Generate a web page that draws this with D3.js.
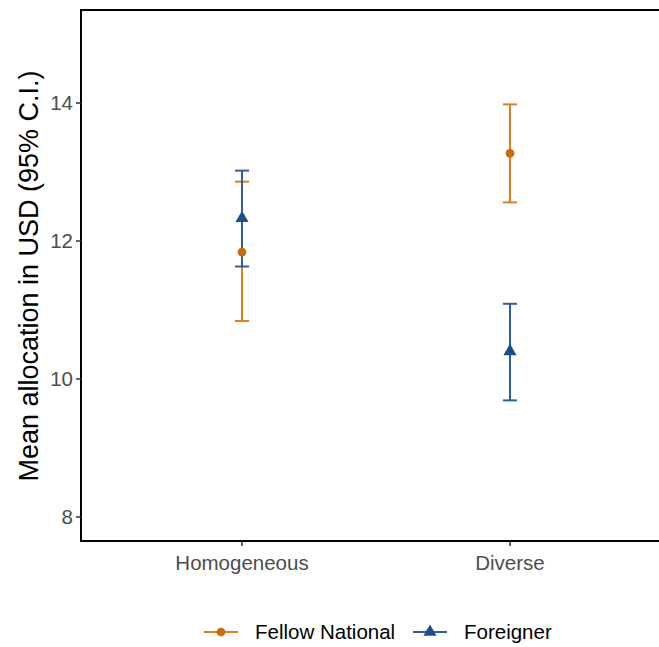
<!DOCTYPE html>
<meta charset="utf-8">
<style>
body { margin: 0; background: #fff; }
text { font-family: "Liberation Sans", Arial, sans-serif; }
</style>
<svg width="659" height="647"></svg>
<script src="https://d3js.org/d3.v7.min.js"></script>
<script>
// data
var groups = ["Homogeneous", "Diverse"];
var seriesNames = ["Fellow National", "Foreigner"];
var fellowMean = [11.84, 13.27];
var fellowLow = [10.84, 12.56];
var fellowHigh = [12.86, 13.98];
var foreignMean = [12.33, 10.40];
var foreignLow = [11.63, 9.69];
var foreignHigh = [13.02, 11.09];
var yTicks = [8, 10, 12, 14];

var svg = d3.select("svg");
var mLeft = 81, mTop = 10, mBottom = 541;

var y = d3.scaleLinear().domain([7.652, 15.348]).range([mBottom, mTop]);
var x = d3.scalePoint().domain(groups).range([242, 510]);

var colors = { line: ["#dd7f1f", "#2c609e"], mark: ["#cf6a0c", "#1b4f8c"] };

var series = [
  { name: seriesNames[0], mean: fellowMean, lo: fellowLow, hi: fellowHigh, shape: d3.symbolCircle },
  { name: seriesNames[1], mean: foreignMean, lo: foreignLow, hi: foreignHigh, shape: d3.symbolTriangle }
];

// error bars
series.forEach(function(s, si) {
  var g = svg.append("g");
  groups.forEach(function(grp, i) {
    var cx = x(grp);
    g.append("line").attr("x1", cx).attr("x2", cx)
      .attr("y1", y(s.lo[i])).attr("y2", y(s.hi[i]))
      .attr("stroke", colors.line[si]).attr("stroke-width", 2);
    [s.lo[i], s.hi[i]].forEach(function(v) {
      g.append("line").attr("x1", cx - 7).attr("x2", cx + 7)
        .attr("y1", y(v)).attr("y2", y(v))
        .attr("stroke", colors.line[si]).attr("stroke-width", 2);
    });
  });
});

series.forEach(function(s, si) {
  groups.forEach(function(grp, i) {
    svg.append("path")
      .attr("d", d3.symbol().type(s.shape).size(si === 0 ? 60 : 75)())
      .attr("transform", "translate(" + x(grp) + "," + y(s.mean[i]) + ")")
      .attr("fill", colors.mark[si]);
  });
});

// axes
svg.append("line").attr("x1", mLeft).attr("x2", 659).attr("y1", mTop).attr("y2", mTop)
  .attr("stroke", "#000").attr("stroke-width", 2);
svg.append("line").attr("x1", mLeft).attr("x2", mLeft).attr("y1", mTop - 1).attr("y2", mBottom + 1)
  .attr("stroke", "#000").attr("stroke-width", 2);
svg.append("line").attr("x1", mLeft - 1).attr("x2", 659).attr("y1", mBottom).attr("y2", mBottom)
  .attr("stroke", "#000").attr("stroke-width", 2);

yTicks.forEach(function(t) {
  svg.append("line").attr("x1", mLeft - 5).attr("x2", mLeft).attr("y1", y(t)).attr("y2", y(t))
    .attr("stroke", "#333").attr("stroke-width", 1.5);
  svg.append("text").attr("x", mLeft - 8).attr("y", y(t)).attr("dy", "0.36em")
    .attr("text-anchor", "end").attr("font-size", 20.5).attr("fill", "#4d4d4d").text(t);
});
groups.forEach(function(g) {
  svg.append("line").attr("x1", x(g)).attr("x2", x(g)).attr("y1", mBottom).attr("y2", mBottom + 5)
    .attr("stroke", "#333").attr("stroke-width", 1.5);
  svg.append("text").attr("x", x(g)).attr("y", 570)
    .attr("text-anchor", "middle").attr("font-size", 20.5).attr("fill", "#4d4d4d").text(g);
});

svg.append("text").attr("transform", "translate(38,276) rotate(-90)")
  .attr("text-anchor", "middle").attr("font-size", 27).attr("fill", "#000")
  .text("Mean allocation in USD (95% C.I.)");

// legend
var legX = [204, 413], legTextX = [255, 464];
series.forEach(function(s, si) {
  svg.append("line").attr("x1", legX[si]).attr("x2", legX[si] + 34).attr("y1", 632).attr("y2", 632)
    .attr("stroke", colors.line[si]).attr("stroke-width", 2);
  svg.append("path")
    .attr("d", d3.symbol().type(s.shape).size(si === 0 ? 60 : 75)())
    .attr("transform", "translate(" + (legX[si] + 17) + ",632)")
    .attr("fill", colors.mark[si]);
  svg.append("text").attr("x", legTextX[si]).attr("y", 632).attr("dy", "0.36em")
    .attr("font-size", 20.5).attr("fill", "#000").text(s.name);
});
</script>
